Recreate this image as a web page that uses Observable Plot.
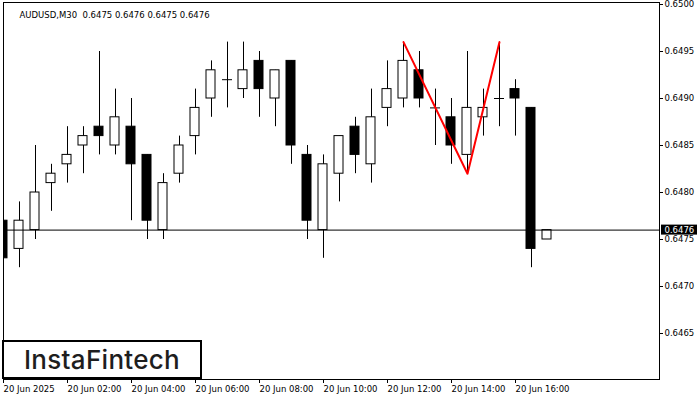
<!DOCTYPE html>
<html><head><meta charset="utf-8">
<script src="https://cdn.jsdelivr.net/npm/d3@7"></script>
<script src="https://cdn.jsdelivr.net/npm/@observablehq/plot@0.6"></script>
<style>
body{margin:0;background:#fff;}
#wrap{position:relative;width:700px;height:400px;overflow:hidden;}
#wrap svg{display:block;}
#logo{position:absolute;left:2px;top:340px;width:200px;height:39px;box-sizing:border-box;border:2px solid #000;background:#fff;
 font-family:Inter,"Open Sans",sans-serif;font-weight:500;font-size:26px;color:#1e1e1e;display:flex;align-items:center;justify-content:center;letter-spacing:0.3px;}
</style></head>
<body><div id="wrap"><div id="logo">InstaFintech</div></div>
<script>
const symbol = "AUDUSD,M30";
const day = [2025, 5, 20];
const times = ["00:00","00:30","01:00","01:30","02:00","02:30","03:00","03:30","04:00","04:30",
  "05:00","05:30","06:00","06:30","07:00","07:30","08:00","08:30","09:00","09:30",
  "10:00","10:30","11:00","11:30","12:00","12:30","13:00","13:30","14:00","14:30",
  "15:00","15:30","16:00","16:30","17:00"];
const open  = [0.6477,0.6474,0.6476,0.6481,0.6483,0.6485,0.6487,0.6485,0.6487,0.6484,
  0.6476,0.6482,0.6486,0.6490,0.6492,0.6491,0.6494,0.6490,0.6494,0.6484,
  0.6476,0.6482,0.6487,0.6483,0.6489,0.6490,0.6493,0.6489,0.6488,0.6484,
  0.6488,0.6490,0.6491,0.6489,0.6475];
const high  = [0.6478,0.6479,0.6485,0.6483,0.6487,0.6487,0.6495,0.6491,0.6490,0.6484,
  0.6482,0.6486,0.6491,0.6494,0.6496,0.6496,0.6495,0.6493,0.6494,0.6485,
  0.6484,0.6486,0.6488,0.6491,0.6494,0.6496,0.6495,0.6491,0.6490,0.6495,
  0.6491,0.6496,0.6492,0.6489,0.6476];
const low   = [0.6470,0.6472,0.6475,0.6478,0.6481,0.6482,0.6484,0.6484,0.6477,0.6475,
  0.6475,0.6481,0.6484,0.6488,0.6489,0.6490,0.6488,0.6487,0.6483,0.6475,
  0.6473,0.6479,0.6482,0.6481,0.6487,0.6489,0.6489,0.6485,0.6483,0.6482,
  0.6486,0.6487,0.6486,0.6472,0.6475];
const close = [0.6473,0.6477,0.6480,0.6482,0.6484,0.6486,0.6486,0.6488,0.6483,0.6477,
  0.6481,0.6485,0.6489,0.6493,0.6492,0.6493,0.6491,0.6493,0.6485,0.6477,
  0.6483,0.6486,0.6484,0.6488,0.6491,0.6494,0.6490,0.6489,0.6485,0.6489,
  0.6489,0.6490,0.6490,0.6474,0.6476];
const patternTimes = ["12:30","14:30","15:30"];
const patternPrices = [0.6496,0.6482,0.6496];
const levelPrice = 0.6476;
const priceTicks = [0.6465,0.6470,0.6475,0.6480,0.6485,0.6490,0.6495,0.6500];
const timeTicks = ["00:00","02:00","04:00","06:00","08:00","10:00","12:00","14:00","16:00"];

const toDate = s => { const [h, m] = s.split(":").map(Number); return new Date(Date.UTC(day[0], day[1], day[2], h, m)); };
const bars = times.map((s, i) => ({t: toDate(s), o: open[i], h: high[i], l: low[i], c: close[i]}));
const pattern = patternTimes.map((s, i) => ({t: toDate(s), p: patternPrices[i]}));
const tickDates = timeTicks.map(toDate);

// layout: 16px per 30-minute bar
const W = 700, H = 400, mL = 3, mR = 41, mT = 2, mB = 21;
const msPerPx = 30 * 60 * 1000 / 16;
const pxPerPrice = 94000;
const t0 = toDate(times[0]);
const xEnd = new Date(+t0 + (W - mL - mR) * msPerPx);
const xDomain = [t0, xEnd];
const yDomain = [0.65 - (H - mB - mT - 2) / pxPerPrice, 0.65 + 2 / pxPerPrice];
const off = px => d => new Date(+d.t + px * msPerPx);
const afterEnd = px => () => new Date(+xEnd + px * msPerPx);
const priceOff = px => d => d + px / pxPerPrice;

const fmtTime = d => {
  const hh = String(d.getUTCHours()).padStart(2, "0"), mm = String(d.getUTCMinutes()).padStart(2, "0");
  return (hh === "00" && mm === "00") ? "20 Jun 2025" : `20 Jun ${hh}:${mm}`;
};
const last = bars[bars.length - 1];
const title = `${symbol}\u00a0\u00a0${last.o.toFixed(4)} ${last.h.toFixed(4)} ${last.l.toFixed(4)} ${last.c.toFixed(4)}`;

const bodies = bars.filter(d => d.o !== d.c);
const dojis = bars.filter(d => d.o === d.c);

const chart = Plot.plot({
  width: W, height: H,
  marginLeft: mL, marginRight: mR, marginTop: mT, marginBottom: mB,
  style: {fontFamily: "DejaVu Sans", fontSize: "8.5px", color: "#000", background: "#fff"},
  x: {type: "utc", domain: xDomain},
  y: {domain: yDomain},
  marks: [
    Plot.ruleX(bars, {x: "t", y1: "l", y2: "h", stroke: "#000", strokeWidth: 1, clip: true}),
    Plot.rect(bodies, {x1: off(-5), x2: off(4), y1: "o", y2: "c",
      fill: d => d.c > d.o ? "#fff" : "#000", stroke: "#000", strokeWidth: 1, clip: true}),
    Plot.ruleY(dojis, {y: "o", x1: off(-5), x2: off(5), stroke: "#000", strokeWidth: 1, clip: true}),
    Plot.ruleY([levelPrice], {stroke: "#000", strokeWidth: 1}),
    Plot.line(pattern, {x: "t", y: "p", stroke: "#ff0000", strokeWidth: 2}),
    Plot.frame({stroke: "#000"}),
    Plot.axisY(priceTicks, {anchor: "right", tickSize: 3, tickPadding: 2, tickFormat: d => d.toFixed(4), label: null, fill: "#000"}),
    Plot.axisX(tickDates, {anchor: "bottom", tickSize: 4, tickPadding: 2, tickFormat: fmtTime, textAnchor: "start", label: null, fill: "#000"}),
    Plot.text([title], {frameAnchor: "top-left", dx: 16, dy: 9, textAnchor: "start", fill: "#000"}),
    Plot.rect([levelPrice], {x1: afterEnd(2), x2: afterEnd(38), y1: priceOff(-5), y2: priceOff(5), fill: "#000"}),
    Plot.text([levelPrice], {x: afterEnd(5), y: d => d, textAnchor: "start",
      fill: "#fff", text: d => d.toFixed(4)})
  ]
});
const wrap = document.getElementById("wrap");
wrap.insertBefore(chart, wrap.firstChild);
</script>
</body></html>
